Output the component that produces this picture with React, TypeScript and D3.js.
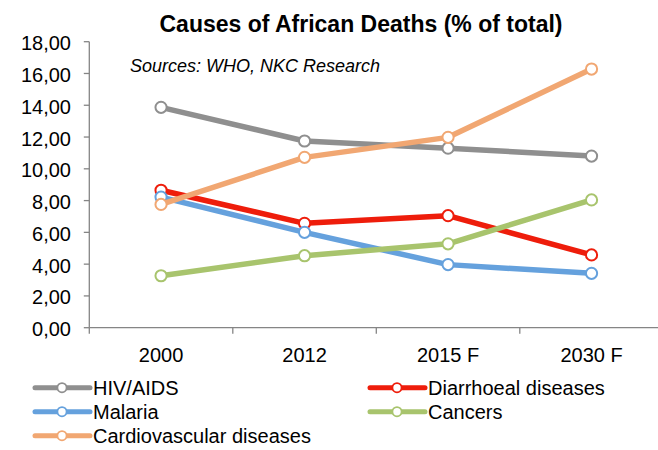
import React, { useEffect } from "react";
import * as d3 from "d3";

// Chart data: share of total deaths in Africa (%)
const categories = ["2000", "2012", "2015 F", "2030 F"];
const seriesNames = ["HIV/AIDS", "Diarrhoeal diseases", "Malaria", "Cancers", "Cardiovascular diseases"];
const hivAids = [13.87, 11.75, 11.3, 10.8];
const diarrhoeal = [8.65, 6.57, 7.05, 4.58];
const malaria = [8.22, 6.0, 3.97, 3.42];
const cancers = [3.27, 4.53, 5.28, 8.04];
const cardiovascular = [7.76, 10.72, 11.98, 16.28];
const yTicks = [0, 2, 4, 6, 8, 10, 12, 14, 16, 18];

const seriesValues = [hivAids, diarrhoeal, malaria, cancers, cardiovascular];
const seriesColors = ["#8f8f8f", "#ee1d0b", "#65a1dd", "#a8c46d", "#f1a772"];

const W = 658;
const H = 450;
const FONT = "'Liberation Sans', Arial, Helvetica, sans-serif";
const AXIS = "#858585";

const locale = d3.formatLocale({ decimal: ",", thousands: ".", grouping: [3], currency: ["", ""] });
const fmt = locale.format(".2f");

export default function App() {
  useEffect(() => {
    document.body.style.margin = "0";
  }, []);

  const x = d3.scaleBand<string>().domain(categories).range([89.3, 663.3]).padding(0);
  const y = d3.scaleLinear().domain([0, 18]).range([327.7, 41.7]);
  const cx = (c: string) => (x(c) ?? 0) + x.bandwidth() / 2;

  const line = d3
    .line<number>()
    .x((_, i) => cx(categories[i]))
    .y((v) => y(v));

  const x0 = x.range()[0];
  const y0 = y(0);
  const boundaries = [...categories.map((c) => x(c) ?? 0), x.range()[1]];

  // legend: two columns, filled row by row
  const legendCols = [35, 370];
  const legendRows = [387.7, 411.7, 435.7];

  return (
    <svg width={W} height={H} style={{ display: "block", background: "#fff" }} fontFamily={FONT}>
      <text x={361} y={31.5} textAnchor="middle" fontSize={23} fontWeight="bold" fill="#000">
        Causes of African Deaths (% of total)
      </text>
      <text x={130} y={72.3} fontSize={18} fontStyle="italic" fill="#000">
        Sources: WHO, NKC Research
      </text>

      {/* y axis */}
      <line x1={x0} x2={x0} y1={y(18)} y2={y0} stroke={AXIS} strokeWidth={1.3} />
      {yTicks.map((t) => (
        <g key={t}>
          <line x1={x0 - 5.5} x2={x0} y1={y(t)} y2={y(t)} stroke={AXIS} strokeWidth={1.3} />
          <text x={71} y={y(t) + 8.5} textAnchor="end" fontSize={20} fill="#000">
            {fmt(t)}
          </text>
        </g>
      ))}

      {/* x axis */}
      <line x1={x0} x2={x.range()[1]} y1={y0} y2={y0} stroke={AXIS} strokeWidth={1.3} />
      {boundaries.map((b, i) => (
        <line key={i} x1={b} x2={b} y1={y0} y2={y0 + 6} stroke={AXIS} strokeWidth={1.3} />
      ))}
      {categories.map((c) => (
        <text key={c} x={cx(c)} y={362} textAnchor="middle" fontSize={20} fill="#000">
          {c}
        </text>
      ))}

      {/* series */}
      {seriesValues.map((vals, si) => (
        <g key={seriesNames[si]}>
          <path
            d={line(vals) ?? ""}
            fill="none"
            stroke={seriesColors[si]}
            strokeWidth={5.5}
            strokeLinejoin="round"
          />
          {vals.map((v, i) => (
            <circle
              key={i}
              cx={cx(categories[i])}
              cy={y(v)}
              r={5.6}
              fill="#fff"
              stroke={seriesColors[si]}
              strokeWidth={2}
            />
          ))}
        </g>
      ))}

      {/* legend */}
      {seriesNames.map((name, i) => {
        const lx = legendCols[i % 2];
        const ly = legendRows[Math.floor(i / 2)];
        return (
          <g key={name}>
            <line x1={lx} x2={lx + 55} y1={ly} y2={ly} stroke={seriesColors[i]} strokeWidth={5} strokeLinecap="round" />
            <circle cx={lx + 27} cy={ly} r={4.6} fill="#fff" stroke={seriesColors[i]} strokeWidth={1.8} />
            <text x={lx + 58} y={ly + 7} fontSize={20} fill="#000">
              {name}
            </text>
          </g>
        );
      })}
    </svg>
  );
}
